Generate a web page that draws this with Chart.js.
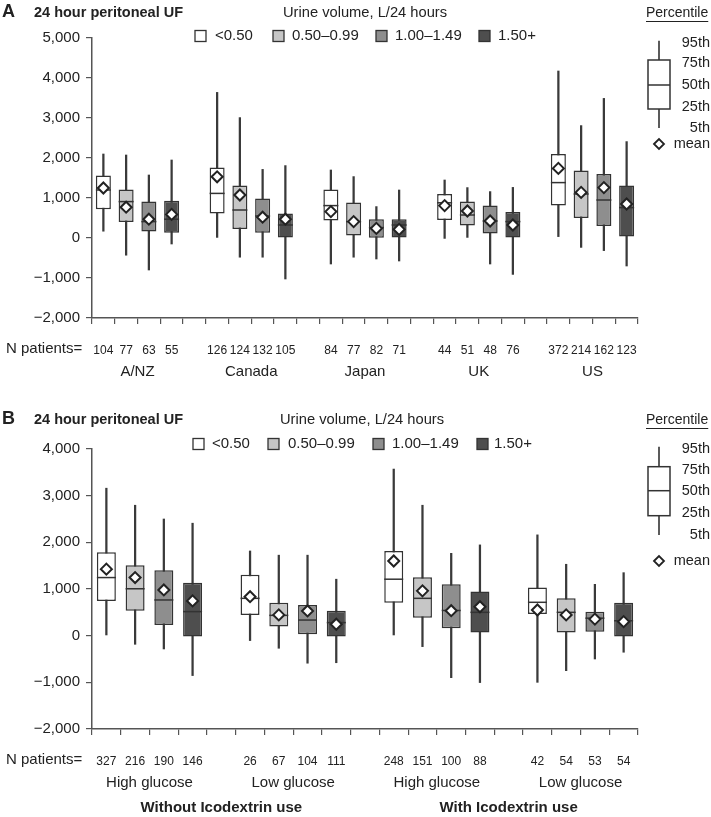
<!DOCTYPE html>
<html>
<head>
<meta charset="utf-8">
<script src="https://cdn.jsdelivr.net/npm/chart.js@4.4.0/dist/chart.umd.min.js"></script>
<style>
  body { margin: 0; background: #fff; }
  #wrap { position: relative; width: 711px; height: 817px; }
  canvas { position: absolute; left: 0; }
</style>
</head>
<body>
<div id="wrap">
  <canvas id="panelA" width="711" height="400" style="top:0px"></canvas>
  <canvas id="panelB" width="711" height="417" style="top:400px"></canvas>
</div>
<script>
// Urine volume classes (legend)
const urineClasses = ['<0.50', '0.50\u20130.99', '1.00\u20131.49', '1.50+'];
const classColors = ['#ffffff', '#c6c6c6', '#8e8e8e', '#4e4e4e'];

// Panel A - by country, 4 urine volume classes each
const groupsA = ['A/NZ', 'Canada', 'Japan', 'UK', 'US'];
const nA = [[104, 77, 63, 55], [126, 124, 132, 105], [84, 77, 82, 71], [44, 51, 48, 76], [372, 214, 162, 123]];
const p95A = [[2100, 2075, 1575, 1950], [3640, 3010, 1715, 1810], [1700, 1535, 785, 1200], [1450, 1260, 1160, 1265], [4175, 2810, 3490, 2410]];
const q3A = [[1560, 1215, 910, 930], [1765, 1310, 990, 615], [1215, 890, 470, 470], [1100, 910, 810, 650], [2100, 1685, 1600, 1310]];
const medA = [[1200, 910, 410, 470], [1115, 700, 550, 325], [810, 410, 260, 325], [880, 575, 425, 410], [1385, 1100, 950, 760]];
const q1A = [[720, 400, 160, 130], [615, 225, 130, 0], [435, 60, 5, 0], [450, 310, 115, 0], [810, 500, 300, 35]];
const p5A = [[170, -430, -800, -150], [15, -480, -480, -1025], [-650, -480, -525, -575], [-10, 15, -650, -910], [35, -235, -315, -700]];
const meanA = [[1250, 770, 470, 590], [1530, 1075, 520, 470], [660, 410, 240, 215], [810, 675, 425, 325], [1740, 1140, 1260, 850]];

// Panel B - by glucose exposure and icodextrin use
const groupsB = ['High glucose', 'Low glucose', 'High glucose', 'Low glucose'];
const superGroupsB = ['Without Icodextrin use', 'With Icodextrin use'];
const nB = [[327, 216, 190, 146], [26, 67, 104, 111], [248, 151, 100, 88], [42, 54, 53, 54]];
const p95B = [[3160, 2795, 2500, 2410], [1815, 1725, 1725, 1210], [3570, 2795, 1765, 1945], [2160, 1530, 1100, 1350]];
const q3B = [[1785, 1510, 1400, 1135], [1305, 705, 655, 535], [1815, 1250, 1100, 945], [1030, 800, 515, 705]];
const medB = [[1245, 1005, 765, 515], [800, 435, 335, 280], [1210, 800, 540, 500], [715, 500, 375, 320]];
const q1B = [[745, 535, 230, -20], [445, 195, 30, -20], [705, 385, 160, 70], [465, 70, 85, -20]];
const p5B = [[15, -185, -285, -855], [-105, -270, -590, -580], [15, -235, -900, -1005], [-1000, -750, -500, -355]];
const meanB = [[1425, 1245, 980, 745], [835, 445, 530, 245], [1600, 960, 535, 620], [550, 445, 355, 300]];

const yTicks = { A: [-2000, 5000], B: [-2000, 4000] };

const FONT = '"Liberation Sans", Arial, Helvetica, sans-serif';
const TXT = '#222';

// flatten groups into slots, with one empty slot between groups
function toSlots(groups) {
  const out = [];
  groups.forEach((g, i) => {
    if (i > 0) out.push(null);
    g.forEach(v => out.push(v));
  });
  return out;
}

function fmt(v) {
  return (v < 0 ? '\u2212' : '') + Math.abs(v).toLocaleString('en-US');
}

function makePanel(id, p) {
  const canvas = document.getElementById(id);
  const H = canvas.height;
  const p5 = toSlots(p.p5), p95 = toSlots(p.p95), q1 = toSlots(p.q1), q3 = toSlots(p.q3);
  const whiskers = p5.map((v, i) => v === null ? null : [v, p95[i]]);
  const boxes = q1.map((v, i) => v === null ? null : [v, q3[i]]);
  const colors = toSlots(p.n.map(() => classColors)).map(c => c || '#fff');
  const nSlots = toSlots(p.n);
  const labels = nSlots.map((v, i) => 's' + i);

  // group label centers are computed from the slot positions
  const groupSlots = [];
  let k = 0;
  p.n.forEach(g => { groupSlots.push([k, k + g.length - 1]); k += g.length + 1; });

  const textPlugin = {
    id: 'panelText',
    afterDraw(chart) {
      const ctx = chart.ctx;
      const x = chart.scales.x;
      ctx.save();
      ctx.fillStyle = TXT;
      ctx.strokeStyle = TXT;
      ctx.textBaseline = 'middle';
      ctx.textAlign = 'left';
      ctx.font = 'bold 18px ' + FONT;
      ctx.fillText(p.letter, 2, p.titleY);
      ctx.font = 'bold 14.5px ' + FONT;
      ctx.fillText('24 hour peritoneal UF', 34, p.titleY + 1);
      ctx.font = '14.7px ' + FONT;
      ctx.fillText('Urine volume, L/24 hours', p.legTitleX, p.titleY + 1);

      // class legend
      urineClasses.forEach((c, i) => {
        const sx = p.legSq[i];
        ctx.fillStyle = classColors[i];
        ctx.fillRect(sx, p.legY - 5.5, 11, 11);
        ctx.strokeStyle = '#333';
        ctx.lineWidth = 1.3;
        ctx.strokeRect(sx, p.legY - 5.5, 11, 11);
        ctx.fillStyle = TXT;
        ctx.font = '15px ' + FONT;
        ctx.fillText(c, p.legTx[i], p.legY);
      });

      // percentile key
      ctx.font = '14px ' + FONT;
      ctx.fillText('Percentile', 646, p.titleY + 1);
      const pw = ctx.measureText('Percentile').width;
      ctx.lineWidth = 1;
      ctx.strokeStyle = TXT;
      ctx.beginPath();
      ctx.moveTo(646, p.titleY + 9.5);
      ctx.lineTo(646 + pw, p.titleY + 9.5);
      ctx.stroke();
      const k5 = p.key;
      ctx.strokeStyle = '#333';
      ctx.lineWidth = 1.6;
      ctx.beginPath();
      ctx.moveTo(659, k5[0]); ctx.lineTo(659, k5[1]);
      ctx.moveTo(659, k5[3]); ctx.lineTo(659, k5[4]);
      ctx.stroke();
      ctx.lineWidth = 1.5;
      ctx.strokeRect(648, k5[1], 22, k5[3] - k5[1]);
      ctx.beginPath();
      ctx.moveTo(648, k5[2]); ctx.lineTo(670, k5[2]);
      ctx.stroke();
      ctx.textAlign = 'right';
      ctx.font = '14.5px ' + FONT;
      ['95th', '75th', '50th', '25th', '5th'].forEach((t, i) => {
        ctx.fillText(t, 710, p.keyLab[i]);
      });
      const dy = p.keyLab[5];
      ctx.beginPath();
      ctx.moveTo(654, dy); ctx.lineTo(659, dy - 5); ctx.lineTo(664, dy); ctx.lineTo(659, dy + 5); ctx.closePath();
      ctx.fillStyle = '#fff'; ctx.fill();
      ctx.strokeStyle = '#222'; ctx.lineWidth = 1.8; ctx.stroke();
      ctx.fillStyle = TXT;
      ctx.fillText('mean', 710, dy);
      ctx.textAlign = 'left';

      // N patients and group labels
      ctx.font = '15px ' + FONT;
      ctx.fillText('N patients=', 6, p.nY);
      ctx.textAlign = 'center';
      p.groups.forEach((g, i) => {
        const [a, b] = groupSlots[i];
        const cx = (x.getPixelForValue(a) + x.getPixelForValue(b)) / 2;
        ctx.fillText(g, cx, p.groupY);
      });
      if (p.superGroups) {
        ctx.font = 'bold 15px ' + FONT;
        p.superGroups.forEach((g, i) => {
          const a = groupSlots[i * 2][0], b = groupSlots[i * 2 + 1][1];
          const cx = (x.getPixelForValue(a) + x.getPixelForValue(b)) / 2;
          ctx.fillText(g, cx, p.superY);
        });
      }
      ctx.restore();
    }
  };

  return new Chart(canvas.getContext('2d'), {
    type: 'bar',
    data: {
      labels,
      datasets: [
        {
          label: 'whisker',
          data: whiskers,
          backgroundColor: '#3a3a3a',
          barThickness: 1.6,
          grouped: false,
          order: 4
        },
        {
          label: 'box',
          data: boxes,
          backgroundColor: colors,
          borderColor: '#333',
          borderWidth: 1.5,
          borderSkipped: false,
          barPercentage: 0.66,
          categoryPercentage: 1,
          grouped: false,
          order: 3
        },
        {
          type: 'line',
          label: 'median',
          data: toSlots(p.med),
          showLine: false,
          pointStyle: 'line',
          pointRadius: p.medHalf,
          borderColor: '#333',
          pointBorderColor: '#333',
          pointBorderWidth: 1.5,
          order: 2
        },
        {
          type: 'line',
          label: 'mean',
          data: toSlots(p.mean),
          showLine: false,
          pointStyle: 'rectRot',
          pointRadius: 5.5,
          pointBackgroundColor: '#fff',
          pointBorderColor: '#222',
          pointBorderWidth: 2,
          order: 1
        }
      ]
    },
    options: {
      responsive: false,
      animation: false,
      devicePixelRatio: 1,
      layout: { padding: { top: p.top, right: 73, left: 0, bottom: 0 } },
      plugins: { legend: { display: false }, tooltip: { enabled: false } },
      scales: {
        x: {
          offset: true,
          grid: { offset: true, drawOnChartArea: false, drawTicks: true, tickLength: 6, color: '#555', lineWidth: 1.2 },
          border: { color: '#555', width: 1.5 },
          ticks: {
            autoSkip: false, maxRotation: 0, minRotation: 0, padding: 19,
            color: TXT, font: { family: FONT, size: 12 },
            callback: (v, i) => nSlots[i] === null ? '' : String(nSlots[i])
          },
          afterFit: s => { s.height = H - p.bottom; }
        },
        y: {
          min: p.yRange[0], max: p.yRange[1],
          ticks: { stepSize: 1000, padding: 6, color: TXT, font: { family: FONT, size: 15 }, callback: v => fmt(v) },
          grid: { drawOnChartArea: false, drawTicks: true, tickLength: 6, color: '#555', lineWidth: 1.2 },
          border: { color: '#555', width: 1.5 },
          afterFit: s => { s.width = 92; }
        }
      }
    },
    plugins: [textPlugin]
  });
}

makePanel('panelA', {
  letter: 'A', groups: groupsA, n: nA,
  p5: p5A, q1: q1A, med: medA, q3: q3A, p95: p95A, mean: meanA,
  yRange: yTicks.A, top: 38, bottom: 318, medHalf: 7.5,
  titleY: 12, legTitleX: 283, legY: 36,
  legSq: [195, 273, 376, 479], legTx: [215, 292, 395, 498],
  key: [40.7, 60, 85, 109, 128], keyLab: [43, 63, 85, 107, 128, 144],
  nY: 349, groupY: 372
});

makePanel('panelB', {
  letter: 'B', groups: groupsB, superGroups: superGroupsB, n: nB,
  p5: p5B, q1: q1B, med: medB, q3: q3B, p95: p95B, mean: meanB,
  yRange: yTicks.B, top: 49, bottom: 329, medHalf: 9.5,
  titleY: 19, legTitleX: 280, legY: 44,
  legSq: [193, 268, 373, 477], legTx: [212, 288, 392, 494],
  key: [46.7, 66.7, 90.7, 115.7, 135], keyLab: [49, 70, 91, 113, 135, 161],
  nY: 360, groupY: 383, superY: 408
});
</script>
</body>
</html>
